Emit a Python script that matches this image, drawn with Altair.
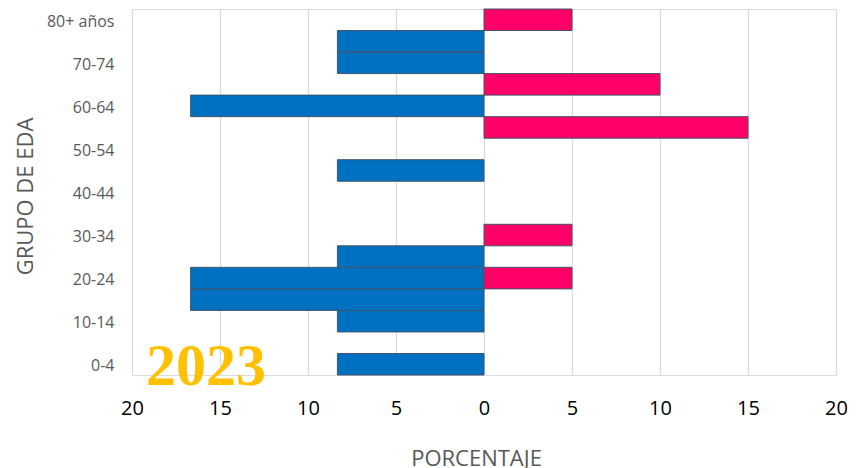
import altair as alt
import pandas as pd

age_groups = ["0-4", "5-9", "10-14", "15-19", "20-24", "25-29", "30-34", "35-39",
              "40-44", "45-49", "50-54", "55-59", "60-64", "65-69", "70-74", "75-79", "80+ años"]
hombres = [8.33, 0, 8.33, 16.67, 16.67, 8.33, 0, 0, 0, 8.33, 0, 0, 16.67, 0, 8.33, 8.33, 0]
mujeres = [0, 0, 0, 0, 5, 0, 5, 0, 0, 0, 0, 15, 0, 10, 0, 0, 5]
shown_labels = ["0-4", "10-14", "20-24", "30-34", "40-44", "50-54", "60-64", "70-74", "80+ años"]
x_ticks = [-20, -15, -10, -5, 0, 5, 10, 15, 20]

year_text = ["2023"]
year_x = [-15.8]
year_y = ["0-4"]

rows = []
for g, h, m in zip(age_groups, hombres, mujeres):
    if h:
        rows.append({"grupo": g, "valor": -h, "sexo": "Hombres"})
    if m:
        rows.append({"grupo": g, "valor": m, "sexo": "Mujeres"})
df = pd.DataFrame(rows)
ann = pd.DataFrame({"t": year_text, "x": year_x, "y": year_y})

order_top_down = list(reversed(age_groups))

x_scale = alt.Scale(domain=[-20, 20], nice=False)
y_scale = alt.Scale(domain=order_top_down, paddingInner=0, paddingOuter=0)

bars = alt.Chart(df).mark_bar(stroke="#44546A", strokeWidth=1).encode(
    x=alt.X("valor:Q", scale=x_scale, stack=None,
            axis=alt.Axis(values=x_ticks, labelExpr="abs(datum.value)", title="PORCENTAJE",
                          grid=True, gridColor="#D9D9D9", gridWidth=1.2, domain=False, ticks=False,
                          labelFlush=False, labelOverlap=False,
                          labelFont="Open Sans", labelFontSize=20, labelColor="#000000",
                          labelPadding=23, titleFont="Open Sans", titleFontSize=22,
                          titleFontWeight="normal", titleColor="#595959", titlePadding=30,
                          titleX=344, titleAlign="center")),
    y=alt.Y("grupo:N", scale=y_scale, sort=order_top_down,
            axis=alt.Axis(values=shown_labels, title="GRUPO DE EDA", grid=False, domain=False,
                          ticks=False, labelFont="Open Sans", labelFontSize=16,
                          labelColor="#595959", labelPadding=18, labelOffset=2,
                          titleFont="Open Sans",
                          titleFontSize=22, titleFontWeight="normal", titleColor="#595959",
                          titleX=-95, titleY=187, titleAngle=270, titleAlign="center",
                          titleBaseline="bottom")),
    color=alt.Color("sexo:N", scale=alt.Scale(domain=["Hombres", "Mujeres"],
                                             range=["#0070C0", "#FF0066"]), legend=None),
)

year = alt.Chart(ann).mark_text(font="Liberation Serif", fontWeight="bold", fontSize=60,
                                color="#FFC000", align="center", baseline="alphabetic",
                                dy=21).encode(
    x=alt.X("x:Q", scale=x_scale),
    y=alt.Y("y:N", scale=y_scale, sort=order_top_down),
    text="t:N",
)

chart = alt.layer(bars, year).properties(
    width=704, height=366,
    autosize=alt.AutoSizeParams(type="none"),
    padding={"left": 124, "top": 1, "right": 12, "bottom": 100},
).configure_view(stroke=None).configure(background="white")

chart.save("out.html", embed_options={"renderer": "svg", "actions": False})
